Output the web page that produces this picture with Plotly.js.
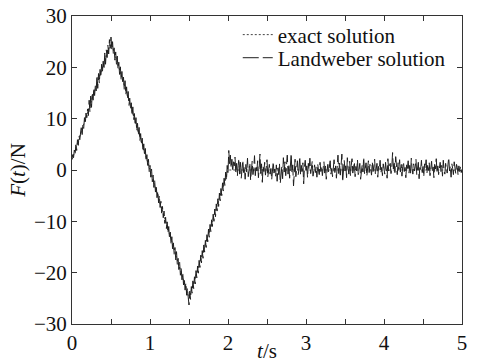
<!DOCTYPE html>
<html>
<head>
<meta charset="utf-8">
<script src="https://cdn.plot.ly/plotly-3.0.1.min.js"></script>
<style>html,body{margin:0;padding:0;background:#fff}</style>
</head>
<body>
<div id="chart" style="width:478px;height:363px"></div>
<script>
// exact solution breakpoints
const exactT = [0, 0.5, 1.5, 2.0, 5.0];
const exactF = [2.0, 25.0, -25.0, 0.0, 0.0];

// Landweber solution sampled every 0.01 s from t=0 to t=5
const dt = 0.01;
const landF = [
  2.2, 3.0, 2.4, 3.9, 3.1, 4.9, 3.8, 5.9, 4.8, 6.6,
  5.9, 7.3, 8.6, 6.9, 8.9, 8.1, 10.2, 9.0, 11.1, 10.2,
  11.9, 10.6, 13.6, 11.3, 14.4, 12.2, 15.1, 13.6, 16.0, 14.5,
  16.6, 15.4, 18.4, 15.9, 18.8, 16.9, 19.6, 18.1, 20.6, 19.0,
  21.2, 19.6, 22.8, 20.6, 23.4, 21.9, 24.3, 22.6, 25.4, 23.7,
  25.9,
  23.5, 25.0, 22.6, 23.8, 21.4, 23.0, 20.6, 22.2, 19.7, 21.0,
  18.6, 20.1, 17.5, 19.2, 16.9, 18.1, 15.6, 17.4, 14.7, 16.2,
  13.9, 15.3, 12.6, 14.0, 11.8, 13.1, 10.6, 12.3, 9.8, 11.0,
  8.7, 10.2, 7.6, 9.1, 6.8, 8.3, 5.7, 7.1, 4.9, 6.2,
  3.6, 5.1, 2.8, 4.2, 1.7, 3.0, 0.8, 2.1, -0.3, 0.9,
  -1.4, 0.2, -2.3, -1.0, -3.4, -2.1, -4.3, -3.0, -5.4, -4.1,
  -6.4, -5.0, -7.3, -6.1, -8.4, -7.1, -9.3, -8.0, -10.4, -9.2,
  -11.4, -10.1, -12.3, -11.0, -13.4, -12.1, -14.4, -13.0, -15.6, -14.2,
  -16.4, -15.1, -17.5, -15.9, -18.4, -17.2, -19.4, -18.0, -20.5, -19.2,
  -21.4, -20.0, -22.4, -21.1, -23.4, -22.0, -24.4, -23.0, -24.8, -26.3,
  -23.6, -25.2, -22.7, -24.0, -21.6, -23.1, -20.8, -22.2, -19.6, -21.0,
  -18.7, -20.1, -17.6, -19.0, -16.6, -18.1, -15.7, -17.2, -14.6, -16.0,
  -13.7, -15.1, -12.6, -14.0, -11.5, -13.1, -10.6, -12.0, -9.7, -11.0,
  -8.6, -10.0, -7.6, -9.1, -6.6, -8.0, -5.6, -7.1, -4.5, -6.0,
  -3.6, -5.0, -2.5, -4.1, -1.6, -3.0, -0.4, -2.0, 0.9, -0.6,
  3.8, 1.2, 2.9, 0.4, 2.1, -0.3, 1.6, 0.8, 2.5, -0.6,
  1.3, -1.2, 0.9, 2.2, -0.8, 1.5, -1.6, 0.4, 1.9, -0.5,
  0.7, -1.8, 1.1, -0.4, 2.3, -1.3, 0.2, 1.4, -2.0, 0.6,
  1.7, -0.9, 0.3, 2.8, -1.1, 0.9, -0.2, 1.8, -1.5, 0.5,
  3.1, -0.7, 1.2, -2.4, 0.8, -0.3, 1.5, -1.0, 0.1, 2.0,
  -1.4, 0.6, 1.1, -0.8, 0.3, -1.9, 0.9, 1.6, -0.6, 0.2,
  -1.2, 1.0, -2.2, 0.4, -0.9, 1.3, -2.6, -0.5, 0.7, -1.7,
  2.4, -0.4, 1.6, -1.1, 0.5, 2.9, -0.8, 1.2, -1.6, 0.3,
  3.2, -0.6, 1.0, -3.1, 0.7, 2.1, -1.3, 0.4, 1.8, -0.9,
  0.2, 2.6, -1.0, 0.9, -0.3, 1.4, -2.7, 0.6, 1.9, -0.4,
  0.8, -1.5, 1.3, 0.1, 2.3, -0.7, 0.5, 1.7, -1.2, 0.3,
  1.0, -0.5, 0.6, -1.4, 1.2, 0.0, -0.9, 1.5, -0.3, 0.7,
  -1.1, 0.4, 1.6, -0.6, 0.9, -1.8, 0.2, 1.1, -0.4, 0.5,
  1.8, -0.8, 0.3, -1.3, 1.4, 2.0, -0.5, 0.8, -1.6, 0.1,
  2.9, -0.7, 1.5, -1.0, 0.6, 3.1, -2.3, 0.4, 1.9, -0.2,
  1.2, -1.5, 2.4, 0.3, -0.8, 1.7, -1.1, 0.9, 2.2, -0.6,
  0.4, 1.6, -1.3, 0.7, -0.2, 2.0, -0.9, 0.5, 1.3, -1.8,
  0.6, 1.0, -0.4, 2.5, -0.7, 0.9, 1.4, -1.2, 0.3, 1.8,
  -0.5, 1.1, 0.2, -1.0, 1.6, -0.3, 0.8, 2.1, -0.9, 0.4,
  1.3, -1.4, 0.7, 0.0, 1.9, -0.6, 0.5, -1.1, 1.2, 0.3,
  -0.8, 1.5, 0.4, -1.6, 2.2, -0.2, 0.9, 1.3, -0.7, 0.6,
  3.4, 0.2, 1.7, -0.5, 2.6, 0.8, -0.9, 1.4, 0.1, 2.0,
  -0.4, 1.1, -1.2, 0.7, 1.6, -0.3, 0.5, -1.5, 1.0, 0.2,
  1.8, -0.6, 0.9, -1.0, 2.3, 0.3, -0.8, 1.2, -0.2, 0.6,
  2.1, -0.9, 0.4, 1.5, -1.7, 0.8, 0.1, 1.9, -0.5, 0.7,
  -1.3, 1.2, 0.3, 2.0, -0.7, 0.9, -0.1, 1.4, -1.1, 0.5,
  1.7, -0.4, 0.6, -1.5, 1.1, 0.2, 2.2, -0.6, 0.8, -0.9,
  0.4, 1.5, -0.3, 0.9, -1.2, 1.9, 0.1, -0.8, 1.3, 0.5,
  -0.6, 1.0, 2.4, -0.2, 0.7, -1.4, 1.2, 0.3, -0.9, 1.6,
  0.2, -0.7, 1.1, 0.5, -1.0, 0.8, -0.3, 0.6, -0.5, 0.1
];
const landT = landF.map((_, i) => +(i * dt).toFixed(2));

const xTickVals = [0, 0.5, 1, 1.5, 2, 2.5, 3, 3.5, 4, 4.5, 5];
const xTickText = ['0', '', '1', '', '2', '', '3', '', '4', '', '5'];
const yTickVals = [-30, -20, -10, 0, 10, 20, 30];

const serif = 'Liberation Serif, Times New Roman, serif';

const traces = [
  {
    x: exactT, y: exactF, type: 'scatter', mode: 'lines',
    name: 'exact solution', legend: 'legend',
    line: {color: '#444', width: 1, dash: '2px,2px'}
  },
  {
    x: landT, y: landF, type: 'scatter', mode: 'lines',
    name: 'Landweber solution', legend: 'legend2',
    line: {color: '#1e1e1e', width: 1, dash: '16px,4px'}
  }
];

const legendBase = {
  xanchor: 'left', yanchor: 'top',
  bgcolor: 'rgba(0,0,0,0)', borderwidth: 0,
  font: {family: serif, size: 21, color: '#111'},
  itemwidth: 30
};

const layout = {
  width: 478, height: 363,
  margin: {l: 72, r: 16, t: 16, b: 39, pad: 0},
  paper_bgcolor: '#fff', plot_bgcolor: '#fff',
  font: {family: serif, size: 21, color: '#111'},
  showlegend: true,
  legend: Object.assign({}, legendBase, {x: 0.425, y: 1.005}),
  legend2: Object.assign({}, legendBase, {x: 0.425, y: 0.93}),
  xaxis: {
    range: [0, 5], tickmode: 'array', tickvals: xTickVals, ticktext: xTickText,
    ticks: 'inside', ticklen: 5, tickcolor: '#333', tickwidth: 1,
    showline: true, linecolor: '#333', linewidth: 1, mirror: 'ticks',
    showgrid: false, zeroline: false,
    tickfont: {family: serif, size: 21, color: '#111'},
    title: {text: '<i>t</i>/s', font: {family: serif, size: 21, color: '#111'}, standoff: 0}
  },
  yaxis: {
    range: [-30, 30], tickmode: 'array', tickvals: yTickVals,
    ticks: 'inside', ticklen: 5, tickcolor: '#333', tickwidth: 1,
    showline: true, linecolor: '#333', linewidth: 1, mirror: 'ticks',
    showgrid: false, zeroline: false,
    tickfont: {family: serif, size: 21, color: '#111'},
    title: {text: '<i>F</i>(<i>t</i>)/N', font: {family: serif, size: 21, color: '#111'}, standoff: 2}
  }
};

Plotly.newPlot('chart', traces, layout, {staticPlot: true, displayModeBar: false});
</script>
</body>
</html>
